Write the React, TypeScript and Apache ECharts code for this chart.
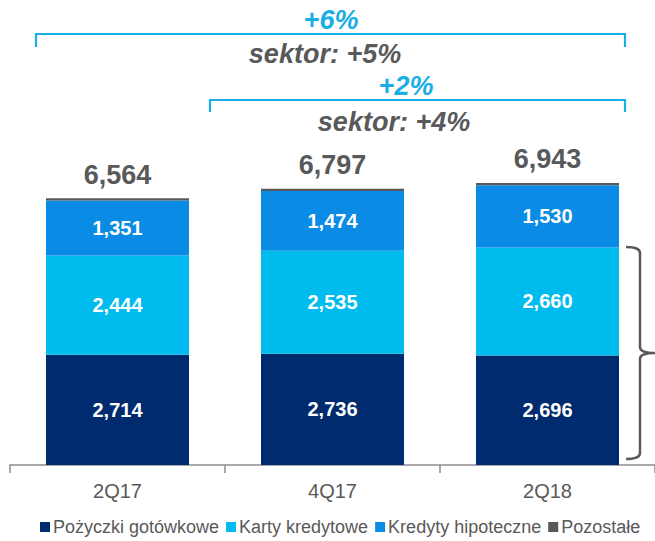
import React, { useEffect, useRef } from "react";
import * as echarts from "echarts";

const categories = ["2Q17", "4Q17", "2Q18"];
const pozyczki = [2714, 2736, 2696];
const karty = [2444, 2535, 2660];
const kredyty = [1351, 1474, 1530];
const pozostale = [55, 52, 57];
const totals = [6564, 6797, 6943];

const fmt = (v: number) => v.toLocaleString("en-US");

let registered = false;

export default function App() {
  const ref = useRef<HTMLDivElement>(null);
  useEffect(() => {
    if (!registered) {
      echarts.graphic.registerShape(
        "brace",
        (echarts.graphic as any).extendPath(
          "M0,0 Q14,0 14,6 L14,100 Q14,106 29,106 Q14,106 14,112 L14,206 Q14,212 0,212",
          {}
        )
      );
      registered = true;
    }
    const chart = echarts.init(ref.current!, null, { renderer: "svg" });
    const font = "Liberation Sans, Arial, sans-serif";
    const segLabel = {
      show: true,
      position: "inside",
      color: "#ffffff",
      fontWeight: "bold",
      fontSize: 20,
      fontFamily: font,
      formatter: (p: any) => fmt(p.value),
    };
    const cyan = "#1AAEE6";
    const gray = "#58595B";
    const bigFont = "italic bold 27px Liberation Sans, Arial, sans-serif";
    chart.setOption({
      animation: false,
      textStyle: { fontFamily: font },
      grid: { left: 10, width: 648, top: 140, height: 325 },
      xAxis: {
        type: "category",
        data: categories,
        axisLine: { lineStyle: { color: "#8c8c8c", width: 1.5 } },
        axisTick: { show: true, length: 8, lineStyle: { color: "#8c8c8c", width: 1.5 } },
        axisLabel: { fontSize: 20, color: "#595959", margin: 16, fontFamily: font },
      },
      yAxis: { type: "value", min: 0, max: 8000, show: false, splitLine: { show: false } },
      legend: {
        left: 35,
        top: 513,
        icon: "rect",
        itemWidth: 10,
        itemHeight: 10,
        itemGap: 7,
        padding: [5, 5, 5, 5],
        textStyle: { fontSize: 18, color: "#595959", fontFamily: font, padding: [0, 0, 0, -2] },
        data: ["Pożyczki gotówkowe", "Karty kredytowe", "Kredyty hipoteczne", "Pozostałe"],
      },
      series: [
        { name: "Pożyczki gotówkowe", type: "bar", stack: "a", barWidth: 143, data: pozyczki, itemStyle: { color: "#002B6F" }, label: segLabel },
        { name: "Karty kredytowe", type: "bar", stack: "a", data: karty, itemStyle: { color: "#00BCEE" }, label: segLabel },
        { name: "Kredyty hipoteczne", type: "bar", stack: "a", data: kredyty, itemStyle: { color: "#0A8CE6" }, label: segLabel },
        {
          name: "Pozostałe",
          type: "bar",
          stack: "a",
          data: pozostale,
          itemStyle: { color: gray },
          label: {
            show: true,
            position: "top",
            distance: 10,
            color: gray,
            fontWeight: "bold",
            fontSize: 27,
            fontFamily: font,
            formatter: (p: any) => fmt(totals[p.dataIndex]),
          },
        },
      ],
      graphic: [
        {
          type: "polyline",
          shape: { points: [[36, 47], [36, 34], [625, 34], [625, 47]] },
          style: { stroke: cyan, lineWidth: 2.2, fill: "none" },
        },
        {
          type: "polyline",
          shape: { points: [[210, 112], [210, 100], [625, 100], [625, 112]] },
          style: { stroke: cyan, lineWidth: 2.2, fill: "none" },
        },
        {
          type: "text",
          x: 331,
          y: 20,
          style: { text: "+6%", fill: cyan, font: bigFont, align: "center", verticalAlign: "middle" },
        },
        {
          type: "text",
          x: 325,
          y: 54,
          style: { text: "sektor: +5%", fill: gray, font: bigFont, align: "center", verticalAlign: "middle" },
        },
        {
          type: "text",
          x: 406,
          y: 86,
          style: { text: "+2%", fill: cyan, font: bigFont, align: "center", verticalAlign: "middle" },
        },
        {
          type: "text",
          x: 394,
          y: 122,
          style: { text: "sektor: +4%", fill: gray, font: bigFont, align: "center", verticalAlign: "middle" },
        },
        {
          type: "brace",
          x: 626,
          y: 247,
          style: { fill: "none", stroke: gray, lineWidth: 2.5 },
        },
      ],
    });
    return () => chart.dispose();
  }, []);
  return (
    <div
      ref={ref}
      style={{ position: "absolute", left: 0, top: 0, width: 655, height: 541, background: "#fff" }}
    />
  );
}
